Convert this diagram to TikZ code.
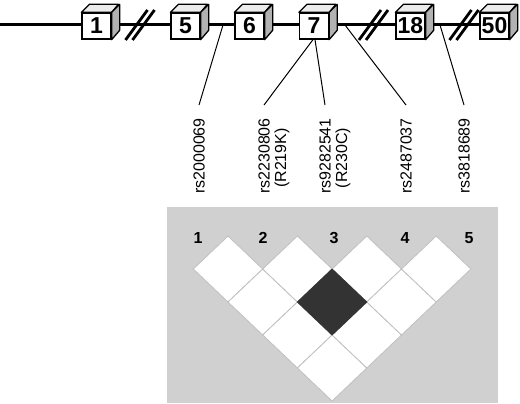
\documentclass[tikz,border=0pt]{standalone}
\usepackage{fontspec}
\setmainfont{Liberation Sans}
\definecolor{ldgray}{RGB}{208,208,208}
\definecolor{ldline}{RGB}{192,192,192}
\definecolor{lddark}{RGB}{51,51,51}
\definecolor{sideface}{RGB}{178,178,178}
\definecolor{topface}{RGB}{236,236,236}
\begin{document}
\begin{tikzpicture}[x=1pt,y=-1pt,
	gene/.style={line width=3pt},
	brk/.style={line width=2.8pt},
	exon/.style={draw,fill=white,line width=1.3pt,minimum width=29pt,minimum height=26pt,inner sep=0pt,font=\fontsize{23}{23}\selectfont\bfseries},
	side/.style={draw,fill=sideface,line width=1.3pt,line join=round},
	top/.style={draw,fill=topface,line width=1.3pt,line join=round},
	snp/.style={rotate=90,anchor=east,inner xsep=13pt,inner ysep=0pt,font=\fontsize{16}{16}\selectfont},
	allele/.style={rotate=90,inner sep=0pt,font=\fontsize{16}{16}\selectfont},
	link/.style={line width=1pt},
	cell/.style={fill=white,draw=ldline,line width=0.8pt},
	marker/.style={font=\fontsize{16}{16}\selectfont\bfseries}]
	
	\useasboundingbox (0,0) rectangle (520,404);
	
	% gene
	\coordinate (start) at (0,25);
	\coordinate (end) at (482,25);
	\draw[gene] (start) -- (end);
	\foreach \n/\x in {1/96.5,5/185.5,6/249.5,7/314,18/410.5,50/494.5}{
		\node[exon] (e\n) at (\x,26) {\n};
		\draw[top] (e\n.north west) -- ++(8,-8) -- ++(29,0) -- (e\n.north east) -- cycle;
		\draw[side] (e\n.north east) -- ++(8,-8) -- ++(0,26) -- (e\n.south east) -- cycle;
	}
	\foreach \c in {140,373.5,464}{
		\draw[brk] (\c-14.5,40) -- (\c+7.5,10);
		\draw[brk] (\c-7.5,40) -- (\c+14.5,10);
	}
	
	% snps
	\coordinate (p1) at (223,25);
	\coordinate (p4) at (345,25);
	\coordinate (p5) at (440,25);
	\node[snp] (s1) at (199,105) {rs2000069};
	\node[snp] (s2) at (264,105) {rs2230806};
	\node[allele] (a2) at (282,158) {(R219K)};
	\node[snp] (s3) at (325,105) {rs9282541};
	\node[allele] (a3) at (343,158) {(R230C)};
	\node[snp] (s4) at (406,105) {rs2487037};
	\node[snp] (s5) at (464,105) {rs3818689};
	\draw[link] (p1) -- (s1.east);
	\draw[link] ([xshift=-1pt]e7.south) -- (s2.east);
	\draw[link] ([xshift=1pt]e7.south) -- (s3.east);
	\draw[link] (p4) -- (s4.east);
	\draw[link] (p5) -- (s5.east);
	
	% ld plot
	\fill[ldgray] (167,207) rectangle (498,403);
	\foreach \i in {1,...,4}{
		\foreach \j in {\i,...,4}{
			\pgfmathsetmacro\cx{228+34.7*(\i+\j-2)}
			\pgfmathsetmacro\cy{269+33*(\j-\i)}
			\draw[cell] (\cx-34.7,\cy) -- (\cx,\cy-33) -- (\cx+34.7,\cy) -- (\cx,\cy+33) -- cycle;
		}
	}
	\draw[cell,fill=lddark,draw=lddark] (332.1-34.7,302) -- (332.1,269) -- (332.1+34.7,302) -- (332.1,335) -- cycle;
	\foreach \m/\x in {1/198,2/263,3/334,4/405,5/469}
		\node[marker] (m\m) at (\x,238) {\m};
	
\end{tikzpicture}
\end{document}
